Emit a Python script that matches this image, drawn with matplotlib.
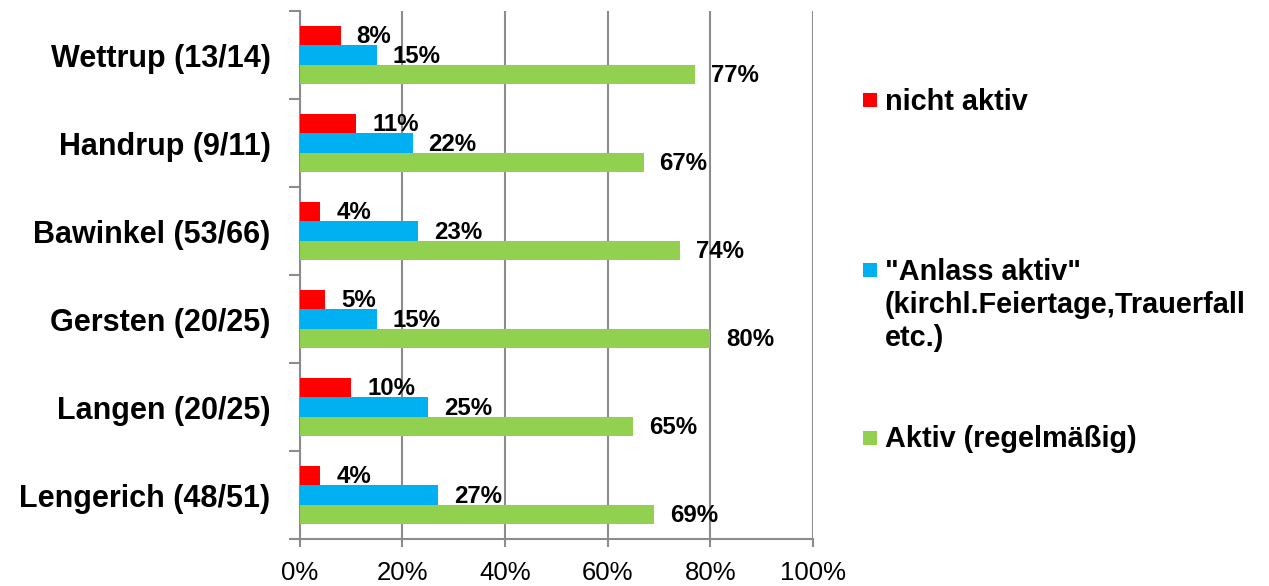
import matplotlib
matplotlib.use("Agg")
import matplotlib.pyplot as plt
import numpy as np
from matplotlib.patches import Rectangle

plt.rcParams['font.family'] = ['Liberation Sans', 'DejaVu Sans']

categories = ["Wettrup (13/14)", "Handrup (9/11)", "Bawinkel (53/66)",
              "Gersten (20/25)", "Langen (20/25)", "Lengerich (48/51)"]
nicht_aktiv = [8, 11, 4, 5, 10, 4]
anlass_aktiv = [15, 22, 23, 15, 25, 27]
aktiv = [77, 67, 74, 80, 65, 69]
series_names = ["nicht aktiv",
                "\"Anlass aktiv\"\n(kirchl.Feiertage,Trauerfall\netc.)",
                "Aktiv (regelmäßig)"]
colors = ["#FF0000", "#00B0F0", "#92D050"]
xticks = [0, 20, 40, 60, 80, 100]
xticklabels = ["0%", "20%", "40%", "60%", "80%", "100%"]

W, H = 1269, 586
fig = plt.figure(figsize=(W / 100, H / 100), dpi=100)
ax = fig.add_axes([299.7 / W, 1 - 539 / H, (813 - 299.7) / W, (539 - 11) / H])

n = len(categories)
ypos = np.arange(n)[::-1]  # Wettrup at top
bh = 0.222
series = [nicht_aktiv, anlass_aktiv, aktiv]
offsets = [-bh, 0, bh]  # red top, blue mid, green bottom
for vals, off, col in zip(series, offsets, colors):
    yy = ypos - off
    bars = ax.barh(yy, vals, height=bh, color=col, edgecolor='none', zorder=3)
    for b, v in zip(bars, vals):
        ax.annotate(f"{v}%", xy=(b.get_width(), b.get_y() + b.get_height() / 2),
                    xytext=(11.5, -0.8), textcoords='offset points',
                    ha='left', va='center', fontsize=17.3, fontweight='bold',
                    color='black', zorder=4)

ax.set_xlim(0, 100)
ax.set_ylim(-0.5, n - 0.5)
ax.set_xticks(xticks)
ax.set_xticklabels(xticklabels, fontsize=18.5)
ax.xaxis.grid(True, color='#8C8C8C', linewidth=1.5, zorder=0)
ax.set_axisbelow(True)

# y ticks at category boundaries, labels at centers
ax.set_yticks(np.arange(-0.5, n, 1.0))
ax.set_yticklabels([])
ax.set_yticks(ypos, minor=True)
ax.set_yticklabels(categories, minor=True, fontsize=22, fontweight='bold')
ax.tick_params(axis='y', which='minor', length=0, pad=21)
ax.tick_params(axis='y', which='major', length=8, width=1.5, color='#8C8C8C', direction='out')
ax.tick_params(axis='x', length=6, width=1.5, color='#8C8C8C', direction='out', pad=10)

for s in ['top', 'right']:
    ax.spines[s].set_visible(False)
for s in ['left', 'bottom']:
    ax.spines[s].set_color('#8C8C8C')
    ax.spines[s].set_linewidth(1.5)

# legend drawn manually: square per entry, one baseline per text line
sq_centers = [100, 270, 438]
line_baselines = [[110], [280, 313, 346], [447]]
for name, col, yc, bls in zip(series_names, colors, sq_centers, line_baselines):
    sq = 14
    fig.patches.append(Rectangle((863 / W, 1 - (yc + sq / 2) / H), sq / W, sq / H,
                                 transform=fig.transFigure, facecolor=col,
                                 edgecolor='none'))
    for line, bl in zip(name.split("\n"), bls):
        fig.text(885 / W, 1 - bl / H, line, ha='left', va='baseline',
                 fontsize=20.8, fontweight='bold')

fig.savefig("out.png", dpi=100)
